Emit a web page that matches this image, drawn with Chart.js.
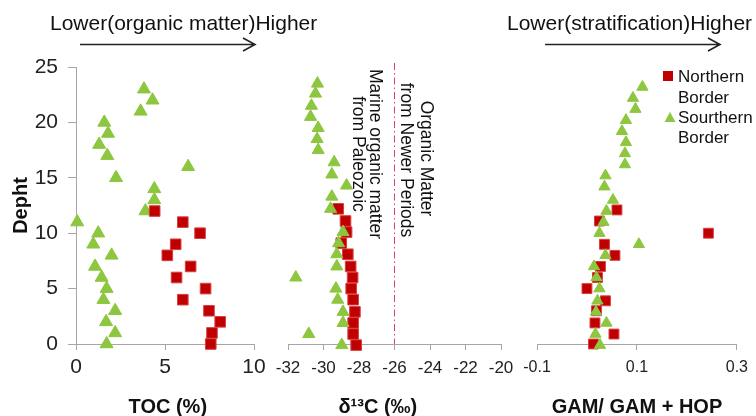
<!DOCTYPE html>
<html>
<head>
<meta charset="utf-8">
<script src="https://cdn.jsdelivr.net/npm/chart.js@4.4.1/dist/chart.umd.min.js"></script>
<style>
html,body{margin:0;padding:0;background:#fff;}
#wrap{position:relative;width:756px;height:416px;}
#wrap canvas{position:absolute;left:0;top:0;}
</style>
</head>
<body>
<div id="wrap">
<canvas id="tocChart" width="756" height="416"></canvas>
<canvas id="d13Chart" width="756" height="416"></canvas>
<canvas id="gamChart" width="756" height="416"></canvas>
</div>
<script>
// shared depth axis
const depthTicks=[0,5,10,15,20,25];

// TOC (%)
const tocTicks=[0,5,10];
const tocSouthDepth=[23,22,21,20,19,18,17,16,15,14,13,12,11,10,9,8,7,6,5,4,3,2,1,0];
const tocSouth=[3.82,4.3,3.63,1.59,1.8,1.3,1.76,6.3,2.25,4.4,4.4,3.9,0.07,1.25,0.97,2.0,1.07,1.44,1.72,1.54,2.2,1.69,2.2,1.72];
const tocNorthDepth=[12,11,10,9,8,7,6,5,4,3,2,1,0];
const tocNorth=[4.42,6.0,6.97,5.6,5.13,6.44,5.65,7.28,6.0,7.47,8.1,7.64,7.57];

// d13C (per mil)
const d13Ticks=[-32,-30,-28,-26,-24,-22,-20];
const d13Limit=-26;
const d13SouthDepth=[23.5,22.6,21.5,20.5,19.5,18.5,17.5,16.4,15.3,14.3,13.3,12.2,10.1,9.1,8.1,7.0,6.0,5.0,4.0,2.9,1.9,0.9,-0.1];
const d13South=[-30.34,-30.45,-30.68,-30.73,-30.3,-30.36,-30.3,-29.4,-29.53,-28.7,-29.53,-29.6,-28.9,-29.15,-29.25,-29.25,-31.56,-29.3,-29.2,-28.9,-28.9,-30.83,-28.97];
const d13NorthDepth=[12.2,11.1,10.1,9.1,8.1,7.0,6.0,5.0,4.0,2.9,1.9,0.9,-0.1];
const d13North=[-29.17,-28.76,-28.7,-29.0,-28.63,-28.47,-28.36,-28.44,-28.33,-28.23,-28.33,-28.33,-28.16];

// GAM / GAM + HOP
const gamTicks=[-0.1,0.1,0.3];
const gamSouthDepth=[23.2,22.2,21.2,20.2,19.2,18.2,17.2,16.2,15.2,14.2,13.0,12.0,11.0,10.0,9.0,8.0,7.0,6.0,5.0,3.9,2.9,1.9,0.9,-0.1];
const gamSouth=[0.111,0.092,0.097,0.078,0.070,0.078,0.076,0.076,0.037,0.035,0.052,0.039,0.033,0.025,0.104,0.037,0.014,0.019,0.025,0.021,0.018,0.039,0.017,0.026];
const gamNorthDepth=[12.1,11.1,10.0,9.0,8.0,7.0,6.0,5.0,3.9,3.0,1.9,0.9,0];
const gamNorth=[0.06,0.025,0.243,0.035,0.056,0.027,0.021,0.0,0.037,0.019,0.016,0.054,0.013];

const GREEN="#8dc63f";
const RED="#c00000";
const AXIS="#a6a6a6";
const FONT="'Liberation Sans', Arial, sans-serif";

Chart.defaults.font.family=FONT;

function pts(xs,ys){
return xs.map((x,i)=>({x:x,y:ys[i]}));
}

function arrow(ctx,x1,x2,y){
ctx.save();
ctx.strokeStyle="#222";
ctx.lineWidth=1.6;
ctx.beginPath();
ctx.moveTo(x1,y);
ctx.lineTo(x2,y);
ctx.moveTo(x2-12,y-6.5);
ctx.lineTo(x2,y);
ctx.lineTo(x2-12,y+6.5);
ctx.stroke();
ctx.restore();
}

function makePanel(id,p){

const south={
label:"Sourthern Border",
data:pts(p.south,p.southDepth),
pointStyle:"triangle",
pointRadius:p.triR,
backgroundColor:GREEN,
borderColor:GREEN,
borderWidth:1
};
const north={
label:"Northern Border",
data:pts(p.north,p.northDepth),
pointStyle:"rect",
pointRadius:p.sqR,
backgroundColor:RED,
borderColor:"#d94040",
borderWidth:1
};

return new Chart(document.getElementById(id),{
type:"scatter",
data:{datasets:p.northOnTop?[north,south]:[south,north]},
options:{
responsive:false,
animation:false,
events:[],
clip:false,
layout:{padding:{left:p.padL,right:p.padR,top:67,bottom:0}},
plugins:{legend:{display:false},tooltip:{enabled:false}},
scales:{
x:{
type:"linear",
min:p.xMin,
max:p.xMax,
afterBuildTicks:s=>{s.ticks=p.xTicks.map(v=>({value:v}));},
afterFit:s=>{s.height=72;},
ticks:{font:{size:p.tickSize},color:"#222",padding:p.tickPad,maxRotation:0,minRotation:0,autoSkip:false,callback:v=>String(v)},
grid:{drawOnChartArea:false,drawTicks:true,tickLength:6,color:AXIS},
border:{color:AXIS,width:1},
title:{display:true,text:p.title,color:"#111",font:{size:20,weight:"bold",lineHeight:0.9},padding:0}
},
y:{
type:"linear",
min:0,
max:25,
display:p.showY,
afterBuildTicks:s=>{s.ticks=depthTicks.map(v=>({value:v}));},
afterFit:s=>{s.width=p.showY?76:0;},
ticks:{font:{size:21},color:"#222",padding:10},
grid:{drawOnChartArea:false,drawTicks:true,tickLength:8,color:AXIS},
border:{color:AXIS,width:1},
title:{display:true,text:"Depht",color:"#111",font:{size:20,weight:"bold",lineHeight:1},padding:{top:11,bottom:0}}
}
}
},
plugins:[{id:id+"Extra",afterDraw:p.extra}]
});
}

makePanel("tocChart",{
xMin:0,xMax:10,xTicks:tocTicks,title:"\u00a0TOC (%)",
padL:0,padR:502,tickSize:21,tickPad:5,showY:true,
south:tocSouth,southDepth:tocSouthDepth,north:tocNorth,northDepth:tocNorthDepth,
triR:7.5,sqR:7.5,northOnTop:true,
extra:chart=>{
const ctx=chart.ctx;
ctx.save();
ctx.fillStyle="#111";
ctx.font="21px "+FONT;
ctx.textBaseline="alphabetic";
ctx.fillText("Lower(organic matter)Higher",50,30);
ctx.restore();
arrow(ctx,80,255,44.5);
}
});

// trailing spaces pull the centred title left, as in the source
makePanel("d13Chart",{
xMin:-32,xMax:-20,xTicks:d13Ticks,title:"\u03b4\u00b9\u00b3C (\u2030)"+"\u00a0".repeat(6),
padL:288,padR:255,tickSize:17,tickPad:8,showY:false,
south:d13South,southDepth:d13SouthDepth,north:d13North,northDepth:d13NorthDepth,
triR:7,sqR:7.5,northOnTop:false,
extra:chart=>{
const ctx=chart.ctx;
const x=chart.scales.x.getPixelForValue(d13Limit);
ctx.save();
ctx.strokeStyle="#d9455f";
ctx.lineWidth=1;
ctx.setLineDash([7,3,1.5,3]);
ctx.beginPath();
ctx.moveTo(x,63);
ctx.lineTo(x,chart.chartArea.bottom);
ctx.stroke();
ctx.setLineDash([]);
ctx.fillStyle="#111";
ctx.font="17.5px "+FONT;
ctx.textAlign="center";
ctx.textBaseline="middle";
const lines=[["Marine organic matter",375,154],["from Paleozoic",358,154],["Organic Matter",425.5,158.5],["from Newer Periods",405.5,160]];
lines.forEach(l=>{
ctx.save();
ctx.translate(l[1],l[2]);
ctx.rotate(Math.PI/2);
ctx.fillText(l[0],0,0);
ctx.restore();
});
ctx.restore();
}
});

makePanel("gamChart",{
xMin:-0.1,xMax:0.3,xTicks:gamTicks,title:"GAM/ GAM + HOP",
padL:537,padR:18,tickSize:16,tickPad:8,showY:false,
south:gamSouth,southDepth:gamSouthDepth,north:gamNorth,northDepth:gamNorthDepth,
triR:6.5,sqR:7,northOnTop:false,
extra:chart=>{
const ctx=chart.ctx;
ctx.save();
ctx.fillStyle="#111";
ctx.font="21px "+FONT;
ctx.textBaseline="alphabetic";
ctx.fillText("Lower(stratification)Higher",507,30);
ctx.restore();
arrow(ctx,545,720,44.5);

// legend
ctx.save();
ctx.fillStyle=RED;
ctx.fillRect(663,71,10,10);
ctx.fillStyle=GREEN;
ctx.beginPath();
ctx.moveTo(670,112);
ctx.lineTo(675.5,122);
ctx.lineTo(664.5,122);
ctx.closePath();
ctx.fill();
ctx.fillStyle="#111";
ctx.font="17px "+FONT;
ctx.textBaseline="middle";
ctx.fillText("Northern",678,77);
ctx.fillText("Border",678,98);
ctx.fillText("Sourthern",678,118);
ctx.fillText("Border",678,138);
ctx.restore();
}
});
</script>
</body>
</html>
